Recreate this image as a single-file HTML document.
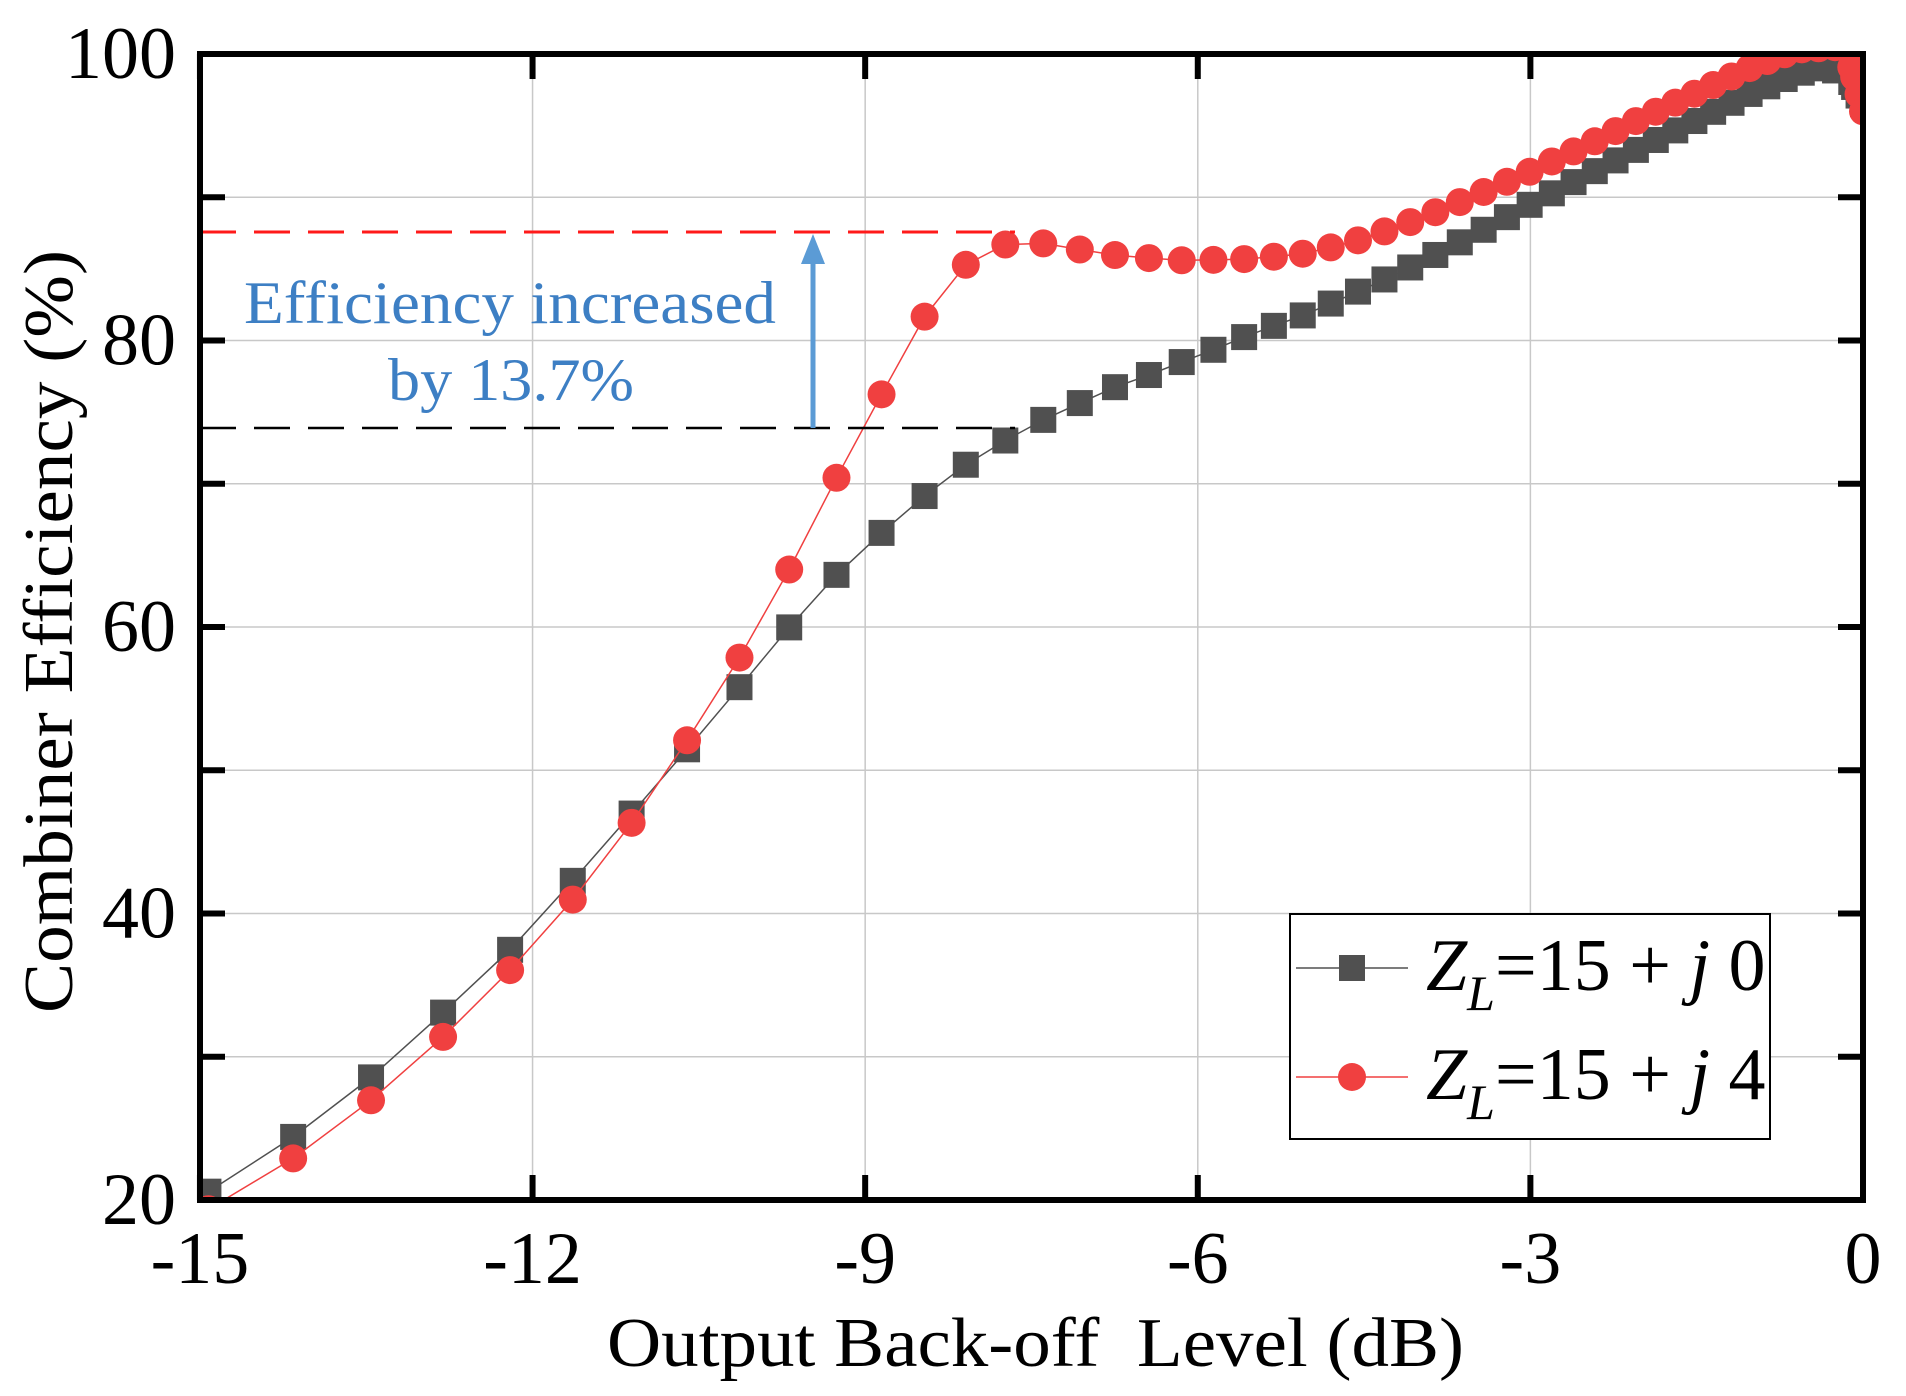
<!DOCTYPE html>
<html><head><meta charset="utf-8"><style>
html,body{margin:0;padding:0;background:#fff;}
svg{display:block;}
text{font-family:"Liberation Serif","Times New Roman",serif;}
</style></head><body>
<svg id="s" width="1906" height="1396" viewBox="0 0 1906 1396" xmlns="http://www.w3.org/2000/svg" font-family="Liberation Serif, serif">
<defs><clipPath id="c"><rect x="200" y="54" width="1663" height="1146"/></clipPath></defs>
<g id="grid" stroke="#c8c8c8" stroke-width="1.5"></g>
<g clip-path="url(#c)" id="data"></g>
<line x1="200" y1="232" x2="1015" y2="232" stroke="#ff1a1a" stroke-width="3" stroke-dasharray="36,18"/>
<line x1="200" y1="428" x2="1015" y2="428" stroke="#000" stroke-width="2.5" stroke-dasharray="36,18"/>
<line x1="813" y1="428" x2="813" y2="260" stroke="#5b9bd5" stroke-width="5"/>
<polygon points="813,234 801,264 825,264" fill="#5b9bd5"/>
<text x="244" y="323" font-size="60" fill="#3d7fc4" textLength="532" lengthAdjust="spacingAndGlyphs" font-family="Liberation Serif, serif">Efficiency increased</text>
<text x="388" y="400" font-size="60" fill="#3d7fc4" textLength="246" lengthAdjust="spacingAndGlyphs" font-family="Liberation Serif, serif">by 13.7%</text>
<rect x="200" y="54" width="1663" height="1146" fill="none" stroke="#000" stroke-width="6"/>
<g id="ticks" stroke="#000" stroke-width="6"></g>
<g id="labels" font-size="74" fill="#000" font-family="Liberation Serif, serif"></g>
<text x="607" y="1366" font-size="70" textLength="857" lengthAdjust="spacingAndGlyphs" font-family="Liberation Serif, serif">Output Back-off&#160; Level (dB)</text>
<text transform="translate(72,1013) rotate(-90)" font-size="70" textLength="763" lengthAdjust="spacingAndGlyphs" font-family="Liberation Serif, serif">Combiner Efficiency (%)</text>
<rect x="1290" y="914" width="480" height="225" fill="#fff" stroke="#000" stroke-width="2"/>
<line x1="1296" y1="968" x2="1408" y2="968" stroke="#505050" stroke-width="1.5"/>
<rect x="1339" y="955" width="26" height="26" fill="#505050"/>
<line x1="1296" y1="1077" x2="1408" y2="1077" stroke="#f04040" stroke-width="1.5"/>
<circle cx="1352" cy="1077" r="14" fill="#f04040"/>
<text x="1426" y="990" font-size="74" font-family="Liberation Serif, serif"><tspan font-style="italic">Z</tspan><tspan font-style="italic" font-size="50" dy="20">L</tspan><tspan dy="-20">=15 + </tspan><tspan font-style="italic">j</tspan> 0</text>
<text x="1426" y="1099" font-size="74" font-family="Liberation Serif, serif"><tspan font-style="italic">Z</tspan><tspan font-style="italic" font-size="50" dy="20">L</tspan><tspan dy="-20">=15 + </tspan><tspan font-style="italic">j</tspan> 4</text>
</svg>
<script>
var NS="http://www.w3.org/2000/svg";
function X(d){return 1863+d*110.87;}
function Y(v){return 1200-(v-20)*14.325;}
function el(p,t,a){var e=document.createElementNS(NS,t);for(var k in a)e.setAttribute(k,a[k]);p.appendChild(e);return e;}
var g=document.getElementById('grid'),tk=document.getElementById('ticks'),lb=document.getElementById('labels');
for(var d=-12;d<0;d+=3){el(g,'line',{x1:X(d),y1:54,x2:X(d),y2:1200});}
for(var v=30;v<100;v+=10){el(g,'line',{x1:200,y1:Y(v),x2:1863,y2:Y(v)});}
for(var d=-15;d<=0;d+=3){el(tk,'line',{x1:X(d),y1:1200,x2:X(d),y2:1175});el(tk,'line',{x1:X(d),y1:54,x2:X(d),y2:79});
 var t=el(lb,'text',{x:X(d),y:1283,'text-anchor':'middle'});t.textContent=d;}
for(var v=20;v<=100;v+=10){el(tk,'line',{x1:200,y1:Y(v),x2:225,y2:Y(v)});el(tk,'line',{x1:1863,y1:Y(v),x2:1838,y2:Y(v)});
 if(v%20==0){var t=el(lb,'text',{x:176,y:Y(v)+24,'text-anchor':'end'});t.textContent=v;}}
var B=[[-15,20.2],[-14.16,24.4],[-13.45,28.6],[-12.79,33.2],[-12.17,37.7],[-11.6,42.6],[-11.07,47.3],[-10.58,51.7],[-10.09,56.2],[-9.65,60.3],[-9.24,63.8],[-8.82,66.8],[-8.44,69.3],[-8.08,71.4],[-7.74,73.0],[-7.41,74.4],[-7.1,75.5],[-6.8,76.6],[-6.5,77.4],[-6.25,78.2],[-6,78.9],[-5.5,80.5],[-5,81.9],[-4.5,83.6],[-4,85.4],[-3.5,87.4],[-3,89.5],[-2.5,91.5],[-2,93.5],[-1.5,95.4],[-1,97.3],[-0.6,98.6],[-0.4,99.0],[-0.2,98.8],[-0.1,98],[0,96.5]];
var R=[[-15,19.0],[-14.16,22.9],[-13.45,27.0],[-12.79,31.5],[-12.17,36.3],[-11.6,41.3],[-11.07,46.7],[-10.58,52.4],[-10.09,58.4],[-9.65,64.5],[-9.24,70.7],[-8.82,76.7],[-8.44,82.0],[-8.08,85.4],[-7.74,86.7],[-7.41,86.8],[-7.1,86.4],[-6.8,86.0],[-6.5,85.8],[-6.25,85.6],[-6,85.6],[-5.5,85.7],[-5,86.1],[-4.5,87.1],[-4,88.5],[-3.5,90.1],[-3,91.8],[-2.5,93.6],[-2,95.5],[-1.5,97.3],[-1,99.1],[-0.6,100.3],[-0.2,100.5],[-0.1,99],[0,96]];
function interp(T,d){for(var i=1;i<T.length;i++){if(d<=T[i][0]){var a=T[i-1],b=T[i];return a[1]+(b[1]-a[1])*(d-a[0])/(b[0]-a[0]);}}return T[T.length-1][1];}
var pts=[];for(var k=0;;k++){var a=0.1794+k*0.0165;if(a>1.0001)break;pts.push(20*Math.log10(a));}
pts.push(-0.08,-0.04,0);
var D=document.getElementById('data');
function series(T,col,sq){var s="";pts.forEach(function(d,i){s+=(i?"L":"M")+X(d).toFixed(1)+","+Y(interp(T,d)).toFixed(1);});
 el(D,'path',{d:s,fill:'none',stroke:col,'stroke-width':1.5});
 pts.forEach(function(d){var x=X(d),y=Y(interp(T,d));if(sq)el(D,'rect',{x:x-13,y:y-13,width:26,height:26,fill:col});else el(D,'circle',{cx:x,cy:y,r:14,fill:col});});}
series(B,'#505050',true);series(R,'#f04040',false);
</script>
</body></html>
